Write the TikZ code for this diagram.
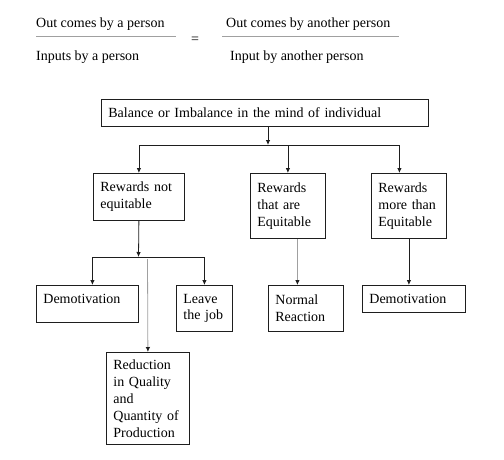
\documentclass[tikz,border=0pt]{standalone}
\usepackage{fontspec}
\setmainfont{Liberation Serif}
\usepackage{tikz}
\usetikzlibrary{
    arrows.meta,
    positioning
}
\definecolor{equityline}{RGB}{30,30,30}
\definecolor{equitygray}{RGB}{160,160,160}

\begin{document}
\begin{tikzpicture}[
    x=1pt, y=-1pt,
    flowbox/.style={
        draw=equityline,
        line width=0.8pt,
        anchor=north west,
        align=left,
        inner xsep=7pt,
        inner ysep=3pt,
        font=\fontsize{14}{17}\selectfont
    },
    eqtext/.style={
        anchor=base west,
        inner sep=0pt,
        font=\fontsize{14}{17}\selectfont
    },
    flowarrow/.style={
        -{Latex[length=5pt,width=4.5pt]},
        line width=0.8pt,
        draw=equityline
    },
    greyarrow/.style={
        -{Latex[length=5pt,width=4.5pt,color=equityline]},
        line width=0.8pt,
        draw=equitygray
    },
    ruleline/.style={
        draw=equitygray,
        line width=0.8pt
    }
]
\useasboundingbox (0,0) rectangle (504,459);

\node[eqtext] (outa) at (36,27) {Out comes by a person};
\node[eqtext] (ina) at (36,60) {Inputs by a person};
\node[eqtext, anchor=center] (equals) at (195,40) {=};
\node[eqtext] (outb) at (226,27) {Out comes by another person};
\node[eqtext] (inb) at (230,60) {Input by another person};
\draw[ruleline] (36,36) -- (176,36);
\draw[ruleline] (222,36) -- (399,36);

\node[
    flowbox,
    minimum width=327pt,
    minimum height=27pt,
    text width=313pt
] (main) at (101,99) {Balance or Imbalance in the mind of individual};

\node[
    flowbox,
    minimum height=47pt,
    text width=77pt
] (notq) at (93,173) {Rewards not\\equitable};

\node[
    flowbox,
    minimum height=65pt,
    text width=61pt
] (equit) at (250,173) {Rewards\\that are\\Equitable};

\node[
    flowbox,
    minimum height=65pt,
    text width=61pt
] (more) at (371,173) {Rewards\\more than\\Equitable};

\node[
    flowbox,
    minimum height=37pt,
    text width=88pt,
    text depth=11pt
] (demot) at (36,285) {Demotivation};

\node[
    flowbox,
    minimum height=46pt,
    text width=42pt
] (leave) at (176,285) {Leave\\the job};

\node[
    flowbox,
    minimum height=92pt,
    text width=69pt
] (reduc) at (106,352) {Reduction\\in Quality\\and\\Quantity of\\Production};

\node[
    flowbox,
    minimum height=46pt,
    text width=61pt
] (normal) at (268,285) {Normal\\Reaction};

\node[
    flowbox,
    minimum height=27pt,
    text width=89pt
] (demottwo) at (362,285) {Demotivation};

\coordinate (hub) at (268,145);
\coordinate (moretop) at ([xshift=-9.5pt]more.north);
\coordinate (hubtwo) at (138.5,257);
\coordinate (demottop) at ([xshift=5pt]demot.north);
\coordinate (reducfrom) at (147.5,259);
\coordinate (normtop) at ([xshift=-8.5pt]normal.north);

\draw[flowarrow] (main.south -| hub) -- (hub);
\draw[flowarrow] (hub) -| (notq.north);
\draw[flowarrow] (hub) -| (equit.north);
\draw[flowarrow] (hub) -| (moretop);

\draw[flowarrow] (notq.south) -- (hubtwo);
\draw[flowarrow] (hubtwo) -| (demottop);
\draw[flowarrow] (hubtwo) -| (leave.north);
\draw[greyarrow] (reducfrom) -- (reduc.north);

\draw[greyarrow] (equit.south -| normtop) -- (normtop);
\draw[flowarrow] (more.south) -- (more.south |- demottwo.north);

\end{tikzpicture}
\end{document}
